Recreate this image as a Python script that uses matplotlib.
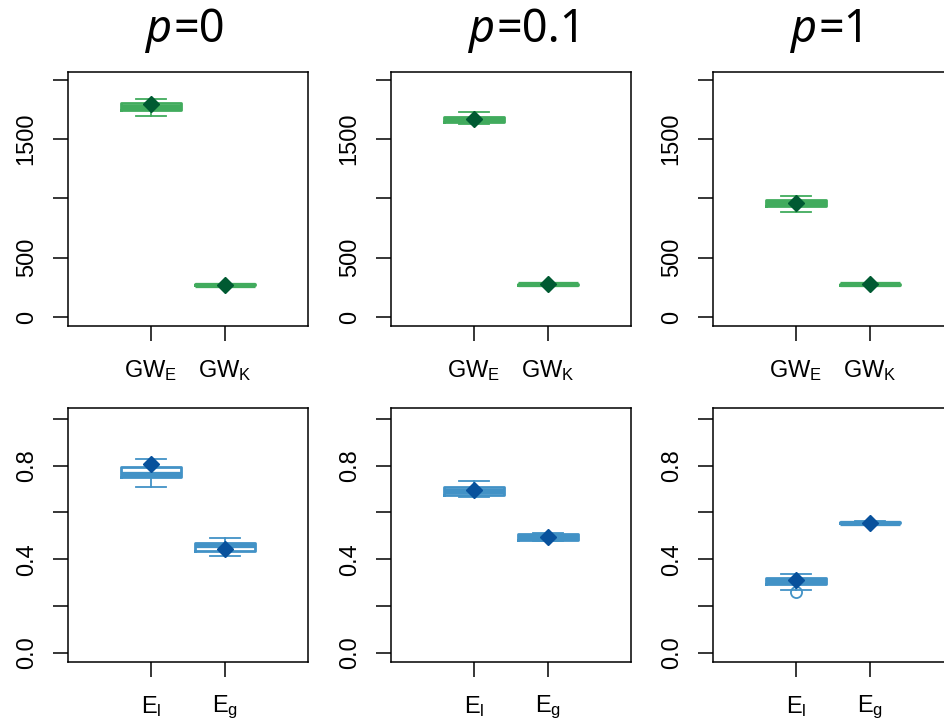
import matplotlib
matplotlib.use("Agg")
import matplotlib.pyplot as plt

plt.rcParams['font.family'] = ['Liberation Sans', 'DejaVu Sans']
plt.rcParams['mathtext.fontset'] = 'custom'
plt.rcParams['mathtext.rm'] = 'Liberation Sans'
plt.rcParams['mathtext.it'] = 'Liberation Sans:italic'

p_labels = ["0", "0.1", "1"]
top_labels = [r"$\mathrm{GW}_\mathrm{E}$", r"$\mathrm{GW}_\mathrm{K}$"]
bot_labels = [r"$\mathrm{E}_\mathrm{l}$", r"$\mathrm{E}_\mathrm{g}$"]

# [whislo, q1, med, q3, whishi, mean] per p
gwe = [[1693, 1744, 1770, 1803, 1833, 1795],
       [1623, 1641, 1665, 1688, 1730, 1665],
       [885, 935, 960, 983, 1017, 963]]
gwk = [[262, 266, 270, 274, 278, 270],
       [267, 271, 275, 279, 283, 275],
       [267, 271, 275, 279, 283, 275]]
el = [[0.708, 0.751, 0.763, 0.796, 0.828, 0.806],
      [0.665, 0.676, 0.690, 0.711, 0.736, 0.694],
      [0.268, 0.294, 0.305, 0.319, 0.336, 0.311]]
eg = [[0.412, 0.433, 0.459, 0.469, 0.490, 0.443],
      [0.477, 0.483, 0.495, 0.506, 0.512, 0.494],
      [0.550, 0.553, 0.556, 0.559, 0.562, 0.556]]
el_outliers = [[], [], [0.258]]

top_ticks = [0, 500, 1000, 1500, 2000]
top_ticklabels = ["0", "500", "", "1500", ""]
bot_ticks = [0.0, 0.2, 0.4, 0.6, 0.8, 1.0]
bot_ticklabels = ["0.0", "", "0.4", "", "0.8", ""]

green_box = "#41AB5D"
green_mean = "#005A32"
blue_box = "#4292C6"
blue_mean = "#08519C"

W, H = 944, 722
fig = plt.figure(figsize=(W / 100, H / 100), dpi=100)
renderer = fig.canvas.get_renderer()

col_x = [68, 391, 713]
ax_w = 240
row_y = [(72, 326), (408, 662)]


def make_stats(a, b, outl_a=(), outl_b=()):
    res = []
    for s, o in ((a, outl_a), (b, outl_b)):
        res.append(dict(whislo=s[0], q1=s[1], med=s[2], q3=s[3], whishi=s[4],
                        mean=s[5], fliers=list(o)))
    return res


def draw(ax, stats, color, mcolor, ylim, ticks, ticklabels, xlabels):
    ax.bxp(stats, positions=[1, 2], widths=0.8, capwidths=0.4, showmeans=True,
           showfliers=True, patch_artist=False,
           boxprops=dict(color=color, linewidth=2.0),
           medianprops=dict(color=color, linewidth=3.8, solid_capstyle='butt'),
           whiskerprops=dict(color=color, linewidth=1.3),
           capprops=dict(color=color, linewidth=1.3),
           meanprops=dict(marker='D', markerfacecolor=mcolor,
                          markeredgecolor=mcolor, markersize=8.5),
           flierprops=dict(marker='o', markerfacecolor='none',
                           markeredgecolor=color, markersize=8,
                           markeredgewidth=1.3))
    ax.set_xlim(-0.12, 3.12)
    ax.set_ylim(*ylim)
    ax.set_yticks(ticks)
    ax.set_yticklabels(ticklabels, rotation=90, va='center')
    ax.set_xticks([1, 2])
    ax.set_xticklabels(xlabels)
    ax.tick_params(axis='both', length=10.8, width=1.1, labelsize=17,
                   color='black')
    ax.tick_params(axis='y', pad=11)
    ax.tick_params(axis='x', pad=12)
    for sp in ax.spines.values():
        sp.set_linewidth(1.1)


title_font = ['Noto Sans', 'DejaVu Sans']
title_size = 32.5

for c in range(3):
    x0 = col_x[c]
    # top row
    yt, yb = row_y[0]
    ax = fig.add_axes([x0 / W, 1 - yb / H, ax_w / W, (yb - yt) / H])
    draw(ax, make_stats(gwe[c], gwk[c]), green_box, green_mean,
         (-76, 2064), top_ticks, top_ticklabels, top_labels)
    # bottom row
    yt, yb = row_y[1]
    ax = fig.add_axes([x0 / W, 1 - yb / H, ax_w / W, (yb - yt) / H])
    draw(ax, make_stats(el[c], eg[c], el_outliers[c], []), blue_box, blue_mean,
         (-0.04, 1.047), bot_ticks, bot_ticklabels, bot_labels)
    # title: italic p followed by "=value", left-aligned near the axes centre
    tx = x0 + ax_w / 2 - 42
    ty = 1 - 42 / H
    tp = fig.text(tx / W, ty, "p", family=title_font, style='italic',
                  fontsize=title_size, ha='left', va='baseline')
    wp = tp.get_window_extent(renderer).width
    fig.text((tx + wp + 1) / W, ty, "=" + p_labels[c], family=title_font,
             fontsize=title_size, ha='left', va='baseline')

fig.savefig("out.png", dpi=100)
